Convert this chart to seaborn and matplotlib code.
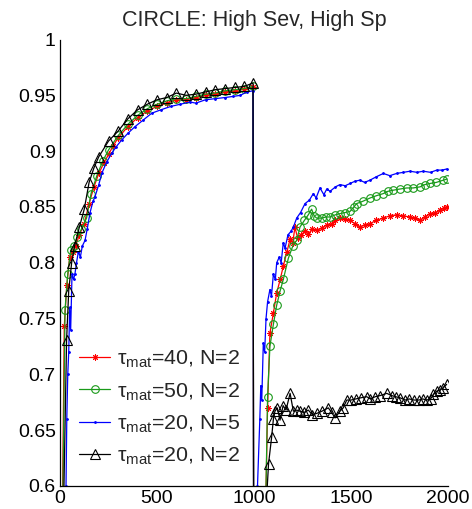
import matplotlib
matplotlib.use("Agg")
import matplotlib.pyplot as plt
import seaborn as sns
import pandas as pd

# ---------------- data ----------------
title = "CIRCLE: High Sev, High Sp"
labels = ["=40, N=2", "=50, N=2", "=20, N=5", "=20, N=2"]
x_ticks = [0, 500, 1000, 1500, 2000]
y_ticks = [0.6, 0.65, 0.7, 0.75, 0.8, 0.85, 0.9, 0.95, 1.0]
y_tick_labels = ["0.6", "0.65", "0.7", "0.75", "0.8", "0.85", "0.9", "0.95", "1"]

# tau_mat=40, N=2 (red)
red_x = [5, 22, 35, 50, 65, 80, 100, 125, 150, 175, 200, 225, 250, 275, 300, 350, 400, 450,
         500, 550, 600, 650, 700, 750, 800, 850, 900, 950, 995, 1000,
         1045, 1060, 1070, 1082, 1100, 1117, 1135, 1151, 1170, 1186, 1200, 1211, 1225, 1240,
         1263, 1280, 1300, 1323, 1350, 1375, 1400, 1420, 1443, 1470, 1495, 1520, 1546, 1570,
         1598, 1630, 1667, 1700, 1735, 1770, 1804, 1830, 1856, 1880, 1907, 1935, 1959, 1980, 1995]
red_y = [0.45, 0.743, 0.78, 0.805, 0.81, 0.815, 0.825, 0.835, 0.853, 0.868, 0.880, 0.889, 0.897,
         0.905, 0.912, 0.922, 0.930, 0.936, 0.940, 0.943, 0.946, 0.946, 0.948, 0.950, 0.951,
         0.953, 0.954, 0.956, 0.957, 0.30,
         0.45, 0.58, 0.67, 0.737, 0.755, 0.773, 0.785, 0.797, 0.81, 0.821, 0.818, 0.832, 0.822,
         0.825, 0.828, 0.826, 0.830, 0.829, 0.831, 0.834, 0.835, 0.838, 0.840, 0.839, 0.838,
         0.835, 0.832, 0.834, 0.835, 0.838, 0.840, 0.842, 0.843, 0.842, 0.841, 0.840, 0.838,
         0.841, 0.844, 0.845, 0.847, 0.849, 0.850]

# tau_mat=50, N=2 (green)
green_x = [5, 26, 40, 55, 70, 90, 110, 137, 160, 190, 220, 250, 300, 350, 400, 450, 500, 550,
           600, 650, 700, 750, 800, 850, 900, 950, 995, 1000,
           1045, 1060, 1070, 1082, 1100, 1117, 1135, 1151, 1177, 1200, 1220, 1237, 1260, 1280,
           1297, 1310, 1323, 1350, 1370, 1392, 1420, 1443, 1470, 1495, 1515, 1529, 1560, 1598,
           1630, 1667, 1690, 1718, 1750, 1787, 1820, 1856, 1880, 1907, 1940, 1976, 1995]
green_y = [0.45, 0.758, 0.79, 0.811, 0.815, 0.823, 0.83, 0.84, 0.862, 0.878, 0.891, 0.901, 0.914,
           0.924, 0.932, 0.938, 0.942, 0.945, 0.947, 0.947, 0.949, 0.951, 0.952, 0.954, 0.955,
           0.956, 0.958, 0.30,
           0.45, 0.58, 0.68, 0.725, 0.745, 0.762, 0.775, 0.785, 0.804, 0.815, 0.820, 0.832, 0.838,
           0.843, 0.848, 0.842, 0.840, 0.840, 0.841, 0.841, 0.843, 0.844, 0.845, 0.846, 0.850,
           0.853, 0.855, 0.858, 0.860, 0.862, 0.864, 0.865, 0.866, 0.867, 0.867, 0.868, 0.870,
           0.871, 0.872, 0.874, 0.875]

# tau_mat=20, N=5 (blue)
blue_x = [25, 31, 35, 40, 45, 50, 55, 62, 70, 77, 85, 95, 105, 115, 129, 140, 155, 170, 180, 200,
          215, 240, 266, 290, 318, 350, 387, 430, 473, 520, 570, 620, 670, 700, 750, 800, 850,
          892, 930, 962, 995, 1000,
          1010, 1018, 1030, 1035, 1040, 1048, 1055, 1062, 1070, 1082, 1090, 1100, 1110, 1117,
          1130, 1140, 1151, 1160, 1175, 1190, 1203, 1220, 1240, 1263, 1285, 1306, 1320, 1340,
          1360, 1375, 1392, 1420, 1443, 1470, 1495, 1520, 1546, 1570, 1598, 1630, 1667, 1700,
          1735, 1770, 1804, 1840, 1873, 1910, 1942, 1970, 1993]
blue_y = [0.45, 0.60, 0.66, 0.70, 0.72, 0.76, 0.74, 0.79, 0.785, 0.79, 0.80, 0.81, 0.805, 0.815,
          0.82, 0.83, 0.845, 0.855, 0.859, 0.870, 0.880, 0.890, 0.898, 0.904, 0.910, 0.916,
          0.922, 0.928, 0.934, 0.937, 0.940, 0.942, 0.944, 0.943, 0.946, 0.947, 0.948, 0.949,
          0.950, 0.953, 0.954, 0.30,
          0.45, 0.60, 0.66, 0.69, 0.677, 0.728, 0.72, 0.75, 0.765, 0.776, 0.77, 0.79, 0.785,
          0.80, 0.805, 0.80, 0.818, 0.813, 0.825, 0.828, 0.832, 0.84, 0.845, 0.853, 0.856,
          0.862, 0.858, 0.867, 0.861, 0.866, 0.864, 0.868, 0.870, 0.869, 0.871, 0.873, 0.874,
          0.872, 0.874, 0.877, 0.880, 0.878, 0.880, 0.881, 0.882, 0.881, 0.882, 0.881, 0.883,
          0.883, 0.884]

# tau_mat=20, N=2 (black)
black_x = [5, 34, 45, 60, 75, 100, 125, 150, 175, 200, 250, 300, 350, 400, 450, 500, 550, 600,
           650, 700, 750, 800, 850, 900, 950, 995, 1000,
           1055, 1062, 1075, 1091, 1100, 1108, 1120, 1134, 1150, 1165, 1186, 1203, 1220, 1237,
           1260, 1280, 1300, 1323, 1350, 1383, 1400, 1418, 1443, 1460, 1478, 1500, 1525, 1550,
           1581, 1600, 1625, 1650, 1684, 1710, 1730, 1753, 1780, 1800, 1825, 1850, 1870, 1890,
           1910, 1925, 1942, 1960, 1975, 1993]
black_y = [0.45, 0.731, 0.775, 0.80, 0.815, 0.832, 0.848, 0.872, 0.885, 0.895, 0.909, 0.918,
           0.929, 0.937, 0.942, 0.946, 0.948, 0.952, 0.950, 0.951, 0.953, 0.955, 0.956, 0.957,
           0.958, 0.961, 0.30,
           0.45, 0.58, 0.62, 0.644, 0.66, 0.667, 0.67, 0.659, 0.672, 0.668, 0.683, 0.667, 0.668,
           0.667, 0.666, 0.668, 0.664, 0.665, 0.667, 0.670, 0.666, 0.661, 0.667, 0.670, 0.677,
           0.677, 0.678, 0.679, 0.680, 0.678, 0.680, 0.681, 0.683, 0.681, 0.680, 0.679, 0.677,
           0.678, 0.677, 0.677, 0.678, 0.677, 0.678, 0.682, 0.685, 0.686, 0.688, 0.691]

# ---------------- plot ----------------
sns.set_style("white")
plt.rcParams["font.family"] = ["Liberation Sans", "DejaVu Sans"]
plt.rcParams["mathtext.fontset"] = "custom"
plt.rcParams["mathtext.rm"] = "Liberation Sans"

fig = plt.figure(figsize=(4.72, 5.09), dpi=100)
ax = fig.add_axes([60 / 472, 1 - 486 / 509, 388 / 472, 446.5 / 509])

series = [
    (red_x, red_y, "#ff0000", dict(marker=(8, 2, 0), markersize=4.5, markeredgewidth=0.7)),
    (green_x, green_y, "#1a9a1a", dict(marker="o", markersize=5.5, markerfacecolor="none",
                                        markeredgewidth=0.8)),
    (blue_x, blue_y, "#0000ff", dict(marker=".", markersize=2.5)),
    (black_x, black_y, "#000000", dict(marker="^", markersize=6.5, markerfacecolor="none",
                                        markeredgewidth=0.8)),
]

for (xs, ys, col, mk), lab in zip(series, labels):
    df = pd.DataFrame({"x": xs, "y": ys})
    sns.lineplot(data=df, x="x", y="y", ax=ax, color=col, linewidth=0.9, sort=False,
                 estimator=None, label="τ$_{\\mathregular{mat}}$" + lab,
                 markeredgecolor=col, **mk)

ax.set_xlim(0, 2000)
ax.set_ylim(0.6, 1.0)
ax.set_xticks(x_ticks)
ax.set_xticklabels([str(t) for t in x_ticks])
ax.set_yticks(y_ticks)
ax.set_yticklabels(y_tick_labels)
ax.set_xlabel("")
ax.set_ylabel("")
ax.tick_params(direction="in", length=4, width=0.8, labelsize=14, pad=3, colors="black")
for s in ["top", "right"]:
    ax.spines[s].set_visible(False)
for s in ["left", "bottom"]:
    ax.spines[s].set_color("black")
    ax.spines[s].set_linewidth(0.9)
ax.set_title(title, fontsize=15.5, pad=10)

leg = ax.legend(loc="center left", bbox_to_anchor=(0.05, 0.175), frameon=False,
                fontsize=15.4, handlelength=1.45, handletextpad=0.3, labelspacing=0.5,
                borderpad=0, borderaxespad=0)

fig.savefig("out.png", dpi=100)
